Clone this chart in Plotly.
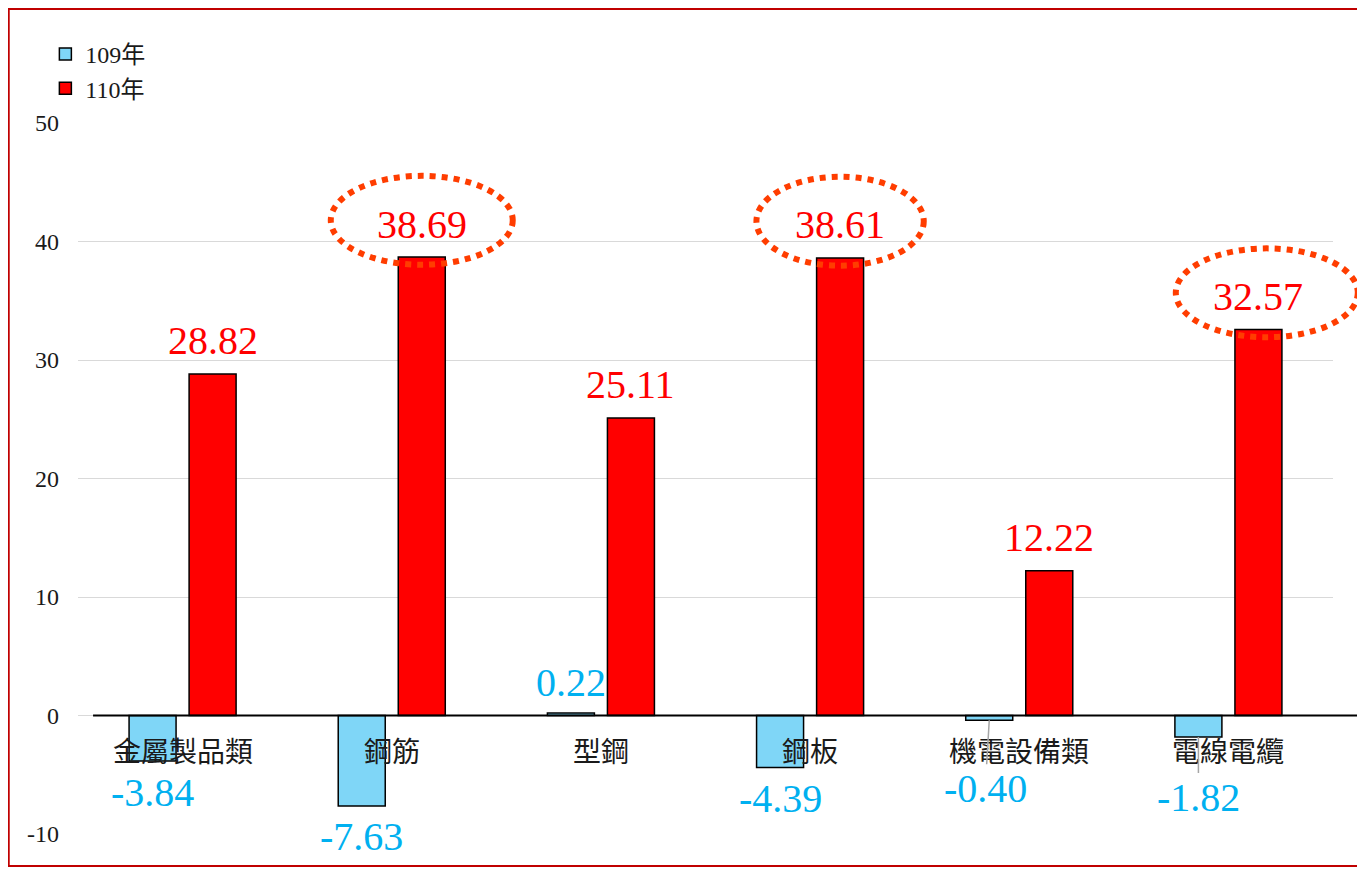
import plotly.graph_objects as go

categories = ["金屬製品類", "鋼筋", "型鋼", "鋼板", "機電設備類", "電線電纜"]
y109 = [-3.84, -7.63, 0.22, -4.39, -0.40, -1.82]
y110 = [28.82, 38.69, 25.11, 38.61, 12.22, 32.57]
series_names = ["109年", "110年"]
highlight = [1, 3, 5]  # indices of circled 110年 values
ytick_vals = [-10, 0, 10, 20, 30, 40, 50]
ytick_text = ["-10", "0", "10", "20", "30", "40", "50"]
Y_MIN, Y_MAX = -10, 50

NUM_FONT = "Liberation Serif, Noto Sans CJK TC"
BLUE = "#7FD6F7"
RED = "#FF0000"
BLUE_TXT = "#00B0F0"
RED_TXT = "#FF0000"

fig = go.Figure()
fig.add_trace(go.Bar(x=categories, y=y109, name=series_names[0], marker=dict(color=BLUE, line=dict(color="black", width=1.5))))
fig.add_trace(go.Bar(x=categories, y=y110, name=series_names[1], marker=dict(color=RED, line=dict(color="black", width=1.5))))

ann = []
# category labels next to zero line
for c in categories:
    ann.append(dict(x=c, y=0, xref="x", yref="y", text=c, showarrow=False, yshift=-34,
                    font=dict(family="Noto Sans CJK TC", size=28, color="#1a1a1a")))
# 110 labels
for c, v in zip(categories, y110):
    ann.append(dict(x=c, y=v, xref="x", yref="y", text=f"{v:.2f}", showarrow=False,
                    xshift=30, yshift=33, yanchor="middle",
                    font=dict(family=NUM_FONT, size=40, color=RED_TXT)))
# 109 labels
for i, (c, v) in enumerate(zip(categories, y109)):
    if i == 4:
        ann.append(dict(x=c, y=v, xref="x", yref="y", text=f"{v:.2f}", showarrow=True, arrowhead=0,
                        arrowcolor="#A6A6A6", arrowwidth=1.5, ax=-4, ay=68, xshift=-30, standoff=0,
                        font=dict(family=NUM_FONT, size=40, color=BLUE_TXT)))
    elif i == 5:
        ann.append(dict(x=c, y=v, xref="x", yref="y", text=f"{v:.2f}", showarrow=True, arrowhead=0,
                        arrowcolor="#A6A6A6", arrowwidth=1.5, ax=0, ay=60, xshift=-30, standoff=0,
                        font=dict(family=NUM_FONT, size=40, color=BLUE_TXT)))
    else:
        sh = 30 if v > 0 else -31
        ann.append(dict(x=c, y=v, xref="x", yref="y", text=f"{v:.2f}", showarrow=False,
                        xshift=-30, yshift=sh, yanchor="middle",
                        font=dict(family=NUM_FONT, size=40, color=BLUE_TXT)))

n = len(categories)
def px(xi):
    return (xi + 0.5) / n
def py(yv):
    return (yv - Y_MIN) / (Y_MAX - Y_MIN)

shapes = []
ell_w = {1: 0.87, 3: 0.80, 5: 0.87}
ell_dx = {1: 0.0, 3: 0.0, 5: 0.04}
for i in highlight:
    v = y110[i]
    cx = i + 0.1435 + ell_dx[i]
    cy = v + 3.1
    w = ell_w[i] / 2
    shapes.append(dict(type="circle", xref="paper", yref="paper", x0=px(cx - w), x1=px(cx + w),
                       y0=py(cy - 3.75), y1=py(cy + 3.75),
                       line=dict(color="#FF3D00", width=6, dash="dot"), layer="above"))
# zero axis line
shapes.append(dict(type="line", xref="paper", yref="y", x0=0.012, x1=1.0255, y0=0, y1=0,
                   line=dict(color="black", width=2), layer="above"))
# outer border
shapes.append(dict(type="rect", xref="paper", yref="paper", x0=-0.0552, x1=1.0231, y0=-0.045, y1=1.1603,
                   line=dict(color="#C00000", width=2)))

fig.update_layout(
    width=1357, height=868,
    margin=dict(l=70, r=32, t=115, b=42),
    paper_bgcolor="white", plot_bgcolor="white",
    barmode="group", bargap=0.426, bargroupgap=0.217,
    showlegend=True,
    legend=dict(x=-0.026, y=1.128, xanchor="left", yanchor="top", font=dict(family=NUM_FONT, size=24, color="#1a1a1a"),
                bgcolor="rgba(0,0,0,0)", itemwidth=30, tracegroupgap=2),
    xaxis=dict(range=[-0.5, 5.5], showticklabels=False, showgrid=False, zeroline=False, showline=False, ticks=""),
    yaxis=dict(range=[Y_MIN, Y_MAX], tickvals=ytick_vals, ticktext=ytick_text, showgrid=True, gridcolor="#D9D9D9", gridwidth=1,
               zeroline=False, showline=False, ticks="", ticklabelstandoff=18,
               tickfont=dict(family=NUM_FONT, size=24, color="#1a1a1a")),
    annotations=ann, shapes=shapes,
)
for a in fig.layout.annotations:
    a.update(xanchor="center")

fig.write_html("out.html")
